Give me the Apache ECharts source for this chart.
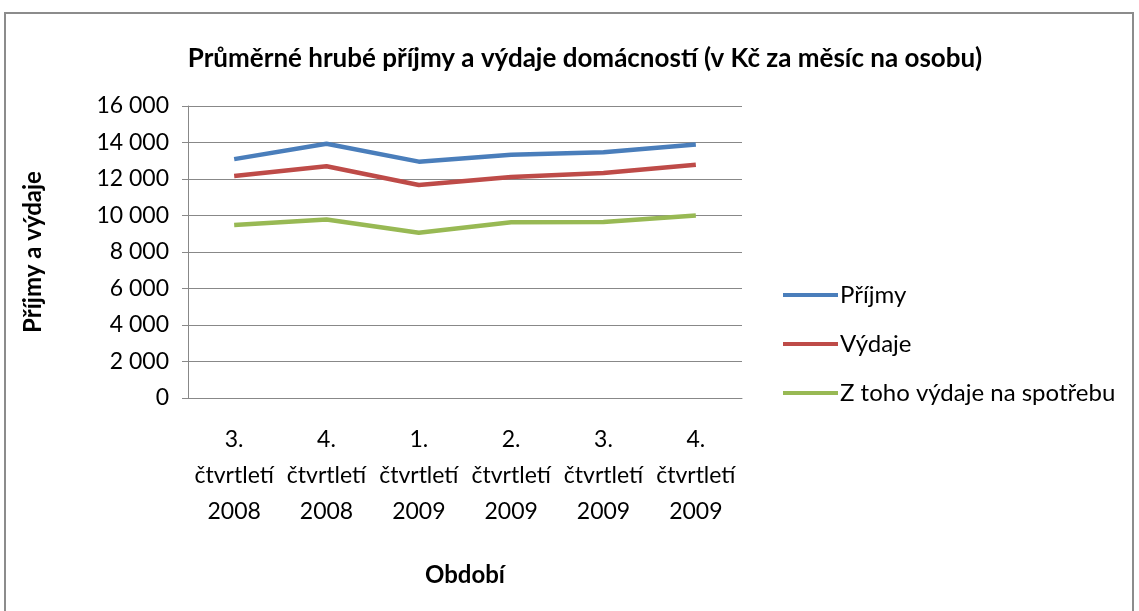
<!DOCTYPE html>
<html lang="cs">

<head>
    <meta charset="UTF-8">
    <title>prijmy</title>
    <style>
        body { margin: 0; background: #fff; }
        #chart { width: 1139px; height: 611px; }
    </style>
    <script src="https://cdn.jsdelivr.net/npm/echarts@6/dist/echarts.min.js"></script>
</head>

<body>
    <div id="chart"></div>
    <script>
        var categories = ['3.\nčtvrtletí\n2008', '4.\nčtvrtletí\n2008', '1.\nčtvrtletí\n2009',
            '2.\nčtvrtletí\n2009', '3.\nčtvrtletí\n2009', '4.\nčtvrtletí\n2009'];
        var prijmy = [13090, 13930, 12950, 13330, 13460, 13890];
        var vydaje = [12170, 12700, 11670, 12110, 12330, 12780];
        var spotreba = [9480, 9780, 9060, 9630, 9650, 10000];
        var seriesNames = ['Příjmy', 'Výdaje', 'Z toho výdaje na spotřebu'];

        var font = 'Lato, "Open Sans", sans-serif';
        var myChart = echarts.init(document.getElementById('chart'));

        function lineSeries(name, data, color) {
            return {
                name: name,
                type: 'line',
                data: data,
                symbol: 'none',
                lineStyle: { width: 4.5, color: color },
                itemStyle: { color: color }
            };
        }

        var option = {
            backgroundColor: '#fff',
            animation: false,
            graphic: [{
                type: 'rect',
                shape: { x: 5, y: 13, width: 1128, height: 620 },
                style: { fill: 'none', stroke: '#8c8c8c', lineWidth: 2 }
            }],
            title: {
                text: 'Průměrné hrubé příjmy a výdaje domácností (v Kč za měsíc na osobu)',
                left: 580,
                textAlign: 'center',
                top: 41,
                textStyle: { fontFamily: font, fontSize: 26, fontWeight: 'bold', color: '#000' }
            },
            legend: {
                orient: 'vertical',
                left: 783,
                top: 283,
                padding: 0,
                itemWidth: 55,
                itemHeight: 4,
                itemGap: 25,
                icon: 'rect',
                data: seriesNames,
                textStyle: { fontFamily: font, fontSize: 24, color: '#000', padding: [0, 0, 0, -3] }
            },
            grid: { left: 188, right: 397, top: 106, bottom: 213 },
            xAxis: {
                type: 'category',
                data: categories,
                name: 'Období',
                nameLocation: 'middle',
                nameGap: 165,
                nameTextStyle: { fontFamily: font, fontSize: 24, fontWeight: 'bold', color: '#000' },
                axisLine: { lineStyle: { color: '#888' } },
                axisTick: { length: 7, lineStyle: { color: '#888' } },
                axisLabel: {
                    fontFamily: font, fontSize: 23, color: '#000', lineHeight: 36, margin: 24, interval: 0
                }
            },
            yAxis: {
                type: 'value',
                min: 0,
                max: 16000,
                interval: 2000,
                name: 'Příjmy a výdaje',
                nameLocation: 'middle',
                nameGap: 143,
                nameTextStyle: { fontFamily: font, fontSize: 24, fontWeight: 'bold', color: '#000' },
                axisLine: { show: true, lineStyle: { color: '#888' } },
                axisTick: { show: true, length: 6, lineStyle: { color: '#888' } },
                splitLine: { lineStyle: { color: '#888' } },
                axisLabel: {
                    fontFamily: font, fontSize: 23, color: '#000', margin: 19,
                    formatter: function (v) {
                        return String(v).replace(/\B(?=(\d{3})+(?!\d))/g, ' ');
                    }
                }
            },
            series: [
                lineSeries(seriesNames[0], prijmy, '#4a7ebb'),
                lineSeries(seriesNames[1], vydaje, '#be4b48'),
                lineSeries(seriesNames[2], spotreba, '#98b954')
            ]
        };
        myChart.setOption(option);
    </script>
</body>

</html>
